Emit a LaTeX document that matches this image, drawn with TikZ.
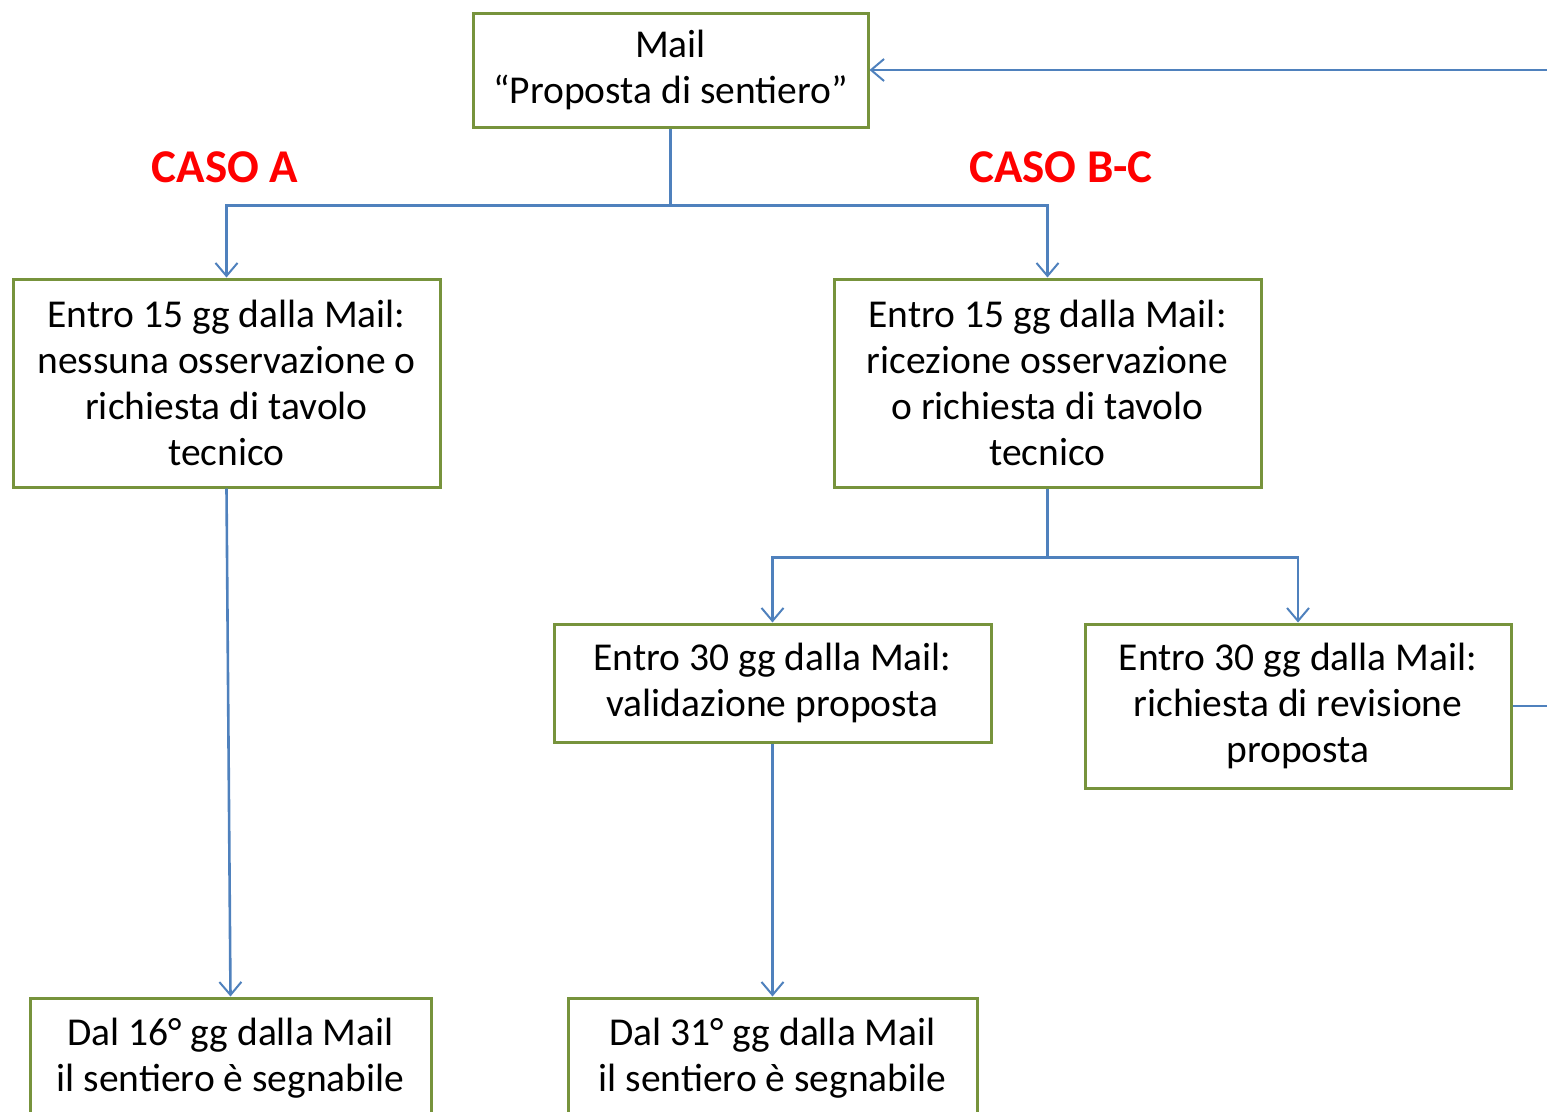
\documentclass[tikz,border=0pt]{standalone}
\usepackage{fontspec}
\setmainfont{Carlito}
\usetikzlibrary{arrows.meta}
\usetikzlibrary{positioning}

\definecolor{boxgreen}{RGB}{119,147,60}
\definecolor{flowblue}{RGB}{79,129,189}
\definecolor{casored}{RGB}{255,0,0}

\begin{document}
\begin{tikzpicture}[x=1pt,y=-1pt,
    box/.style={draw=boxgreen, line width=3pt, inner sep=0pt, align=center,
      font=\fontsize{39.5}{46}\selectfont},
    flow/.style={draw=flowblue, line width=2.6pt,
      -{Straight Barb[length=13pt,width=22pt,line width=2pt]}},
    wire/.style={draw=flowblue, line width=2.6pt},
    caso/.style={text=casored, font=\fontsize{47}{52}\selectfont\bfseries}]
      \useasboundingbox (0,0) rectangle (1547,1111);
      \clip (0,0) rectangle (1547,1111);

      %% Boxes
      \node[box, minimum width=395pt, minimum height=114pt] (mail) at (670.5,70)
        {Mail\\``Proposta di sentiero''};
      \node[box, minimum width=427pt, minimum height=208pt] (a_check) at (226.5,383)
        {Entro 15 gg dalla Mail:\\nessuna osservazione o\\richiesta di tavolo\\tecnico};
      \node[box, minimum width=427pt, minimum height=208pt] (bc_check) at (1047.5,383)
        {Entro 15 gg dalla Mail:\\ricezione osservazione\\o richiesta di tavolo\\tecnico};
      \node[box, minimum width=437pt, minimum height=118pt] (bc_valid) at (772.5,683)
        {Entro 30 gg dalla Mail:\\validazione proposta};
      \node[box, minimum width=426pt, minimum height=164pt] (bc_review) at (1298,706)
        {Entro 30 gg dalla Mail:\\richiesta di revisione\\proposta};
      \node[box, minimum width=401pt, minimum height=120pt] (a_ok) at (230.5,1058)
        {Dal 16\textdegree{} gg dalla Mail\\il sentiero è segnabile};
      \node[box, minimum width=409pt, minimum height=120pt] (bc_ok) at (772.5,1058)
        {Dal 31\textdegree{} gg dalla Mail\\il sentiero è segnabile};

      %% Labels
      \node[caso] (caso_a) at (225,167) {CASO A};
      \node[caso] (caso_bc) at (1061,167) {CASO B-C};

      %% Connectors
      \coordinate (back_in) at (1547,70);
      \coordinate (back_out) at (1547,706);
      \draw[flow] (mail.south) -- ++(0,77) -| (a_check.north);
      \draw[flow] (mail.south) -- ++(0,77) -| (bc_check.north);
      \draw[flow] (bc_check.south) -- ++(0,69) -| (bc_valid.north);
      \draw[flow] (bc_check.south) -- ++(0,69) -| (bc_review.north);
      \draw[flow] (a_check.south) -- (a_ok.north);
      \draw[flow] (bc_valid.south) -- (bc_ok.north);
      \draw[wire] (bc_review.east) -- (back_out);
      \draw[flow] (back_in) -- (mail.east);
\end{tikzpicture}
\end{document}
